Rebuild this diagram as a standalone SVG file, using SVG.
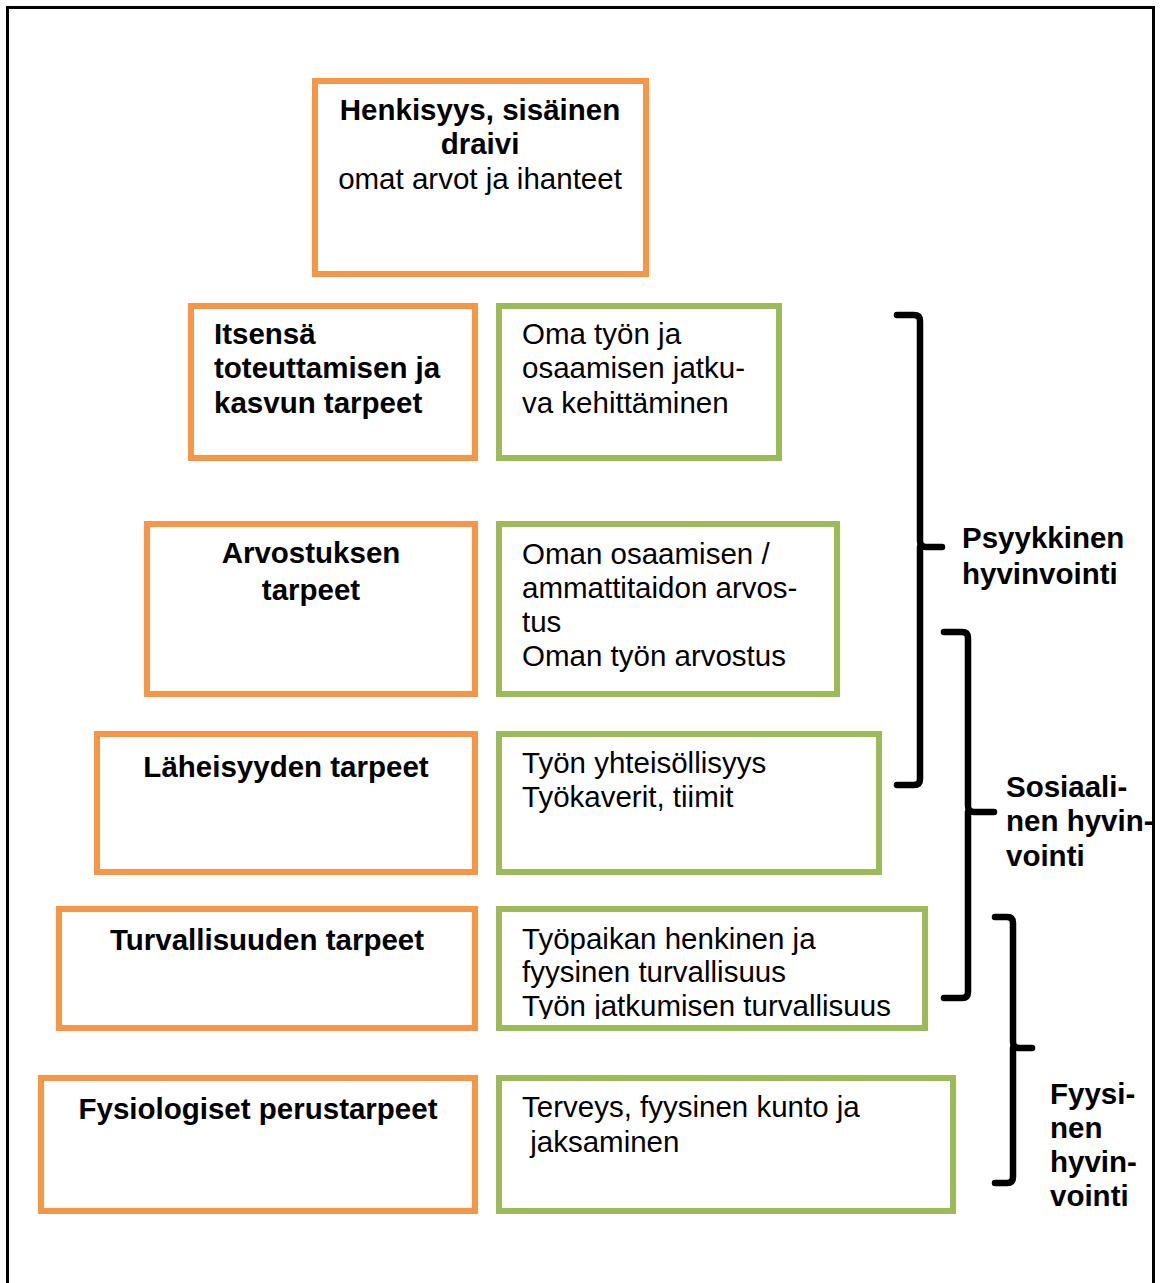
<svg xmlns="http://www.w3.org/2000/svg" width="1161" height="1283" viewBox="0 0 1161 1283">
<defs>
<style>
.o{fill:#fff;stroke:#F79646;stroke-width:6}
.g{fill:#fff;stroke:#9BBB59;stroke-width:6}
.t{font-family:"Liberation Sans",Arial,sans-serif;font-size:29.5px;fill:#000}
.b{font-weight:bold}
.c{text-anchor:middle}
.br{fill:none;stroke:#000;stroke-width:6.5;stroke-linecap:round;stroke-linejoin:round}
</style>
<clipPath id="clipT"><rect x="502" y="912" width="420" height="107"/></clipPath>
</defs>
<rect width="1161" height="1283" fill="#fff"/>
<path d="M7.5 1283 V7.5 H1153.5 V1283" fill="none" stroke="#000" stroke-width="3"/>

<g id="n-henkisyys">
<rect class="o" x="315" y="81" width="331" height="193"/>
<text class="t b c" x="480" y="120">Henkisyys, sisäinen</text>
<text class="t b c" x="480" y="154">draivi</text>
<text class="t c" x="480" y="189">omat arvot ja ihanteet</text>
</g>

<g id="n-itsensa">
<rect class="o" x="191" y="306" width="284" height="152"/>
<text class="t b" x="214" y="344">Itsensä</text>
<text class="t b" x="214" y="378">toteuttamisen ja</text>
<text class="t b" x="214" y="413">kasvun tarpeet</text>
</g>
<g id="n-oma-tyo">
<rect class="g" x="499" y="306" width="280" height="152"/>
<text class="t" x="522" y="344">Oma työn ja</text>
<text class="t" x="522" y="378">osaamisen jatku-</text>
<text class="t" x="522" y="413">va kehittäminen</text>
</g>

<g id="n-arvostus">
<rect class="o" x="147" y="524" width="328" height="170"/>
<text class="t b c" x="311" y="563">Arvostuksen</text>
<text class="t b c" x="311" y="600">tarpeet</text>
</g>
<g id="n-oman-osaamisen">
<rect class="g" x="499" y="524" width="338" height="170"/>
<text class="t" x="522" y="564">Oman osaamisen /</text>
<text class="t" x="522" y="598">ammattitaidon arvos-</text>
<text class="t" x="522" y="632">tus</text>
<text class="t" x="522" y="666">Oman työn arvostus</text>
</g>

<g id="n-laheisyys">
<rect class="o" x="97" y="734" width="378" height="138"/>
<text class="t b c" x="286" y="777">Läheisyyden tarpeet</text>
</g>
<g id="n-yhteisollisyys">
<rect class="g" x="499" y="734" width="380" height="138"/>
<text class="t" x="522" y="773">Työn yhteisöllisyys</text>
<text class="t" x="522" y="807">Työkaverit, tiimit</text>
</g>

<g id="n-turvallisuus">
<rect class="o" x="59" y="909" width="416" height="119"/>
<text class="t b c" x="267" y="950">Turvallisuuden tarpeet</text>
</g>
<g id="n-tyopaikka">
<rect class="g" x="499" y="909" width="426" height="119"/>
<text class="t" x="522" y="949">Työpaikan henkinen ja</text>
<text class="t" x="522" y="982">fyysinen turvallisuus</text>
<text class="t" x="522" y="1016" clip-path="url(#clipT)">Työn jatkumisen turvallisuus</text>
</g>

<g id="n-fysiologiset">
<rect class="o" x="41" y="1078" width="434" height="133"/>
<text class="t b c" x="258" y="1119">Fysiologiset perustarpeet</text>
</g>
<g id="n-terveys">
<rect class="g" x="499" y="1078" width="454" height="133"/>
<text class="t" x="522" y="1117">Terveys, fyysinen kunto ja</text>
<text class="t" x="522" y="1152" xml:space="preserve"> jaksaminen</text>
</g>

<g id="connectors">
<path class="br" d="M897 315 H914 Q920 315 920 321 V541 Q920 547 926 547 H942 M920 547 V779 Q920 785 914 785 H897"/>
<path class="br" d="M944 632 H962 Q968 632 968 638 V806 Q968 812 974 812 H994 M968 812 V992 Q968 998 962 998 H944"/>
<path class="br" d="M995 917 H1007 Q1013 917 1013 923 V1042 Q1013 1048 1019 1048 H1032 M1013 1048 V1177 Q1013 1183 1007 1183 H995"/>
</g>

<g id="labels">
<text class="t b" x="962" y="548">Psyykkinen</text>
<text class="t b" x="962" y="584">hyvinvointi</text>
<text class="t b" x="1006" y="797">Sosiaali-</text>
<text class="t b" x="1006" y="831">nen hyvin-</text>
<text class="t b" x="1006" y="866">vointi</text>
<text class="t b" x="1050" y="1104">Fyysi-</text>
<text class="t b" x="1050" y="1138">nen</text>
<text class="t b" x="1050" y="1172">hyvin-</text>
<text class="t b" x="1050" y="1206">vointi</text>
</g>
</svg>
